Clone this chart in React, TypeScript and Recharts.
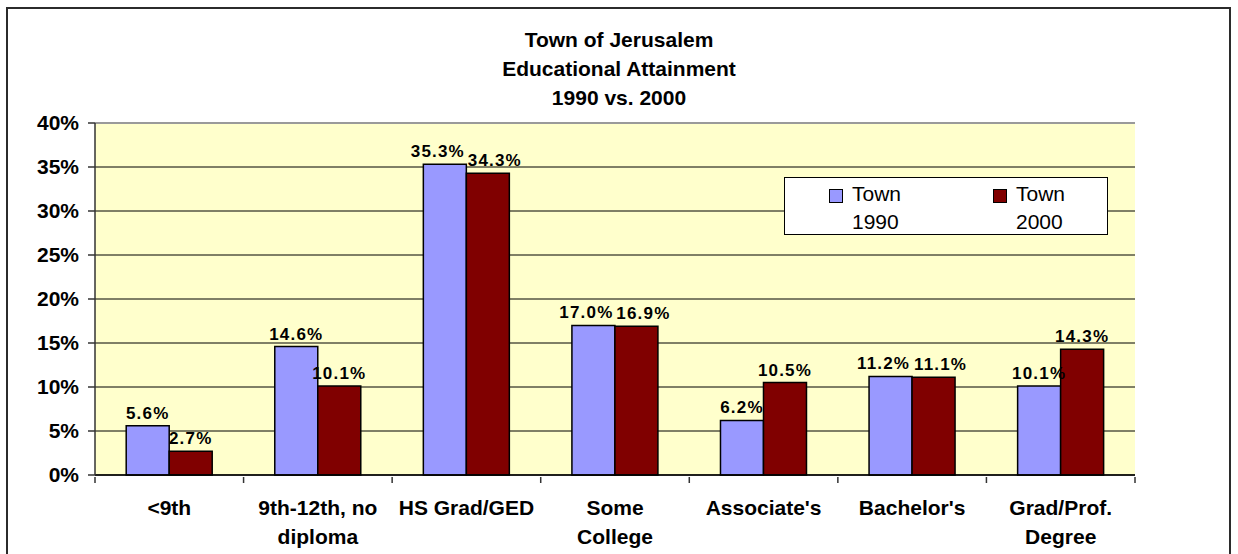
import React from 'react'
import {
  Bar,
  BarChart,
  CartesianGrid,
  LabelList,
  Legend,
  ReferenceLine,
  XAxis,
  YAxis,
} from 'recharts'

const categories = [
  '<9th',
  '9th-12th, no\ndiploma',
  'HS Grad/GED',
  'Some\nCollege',
  "Associate's",
  "Bachelor's",
  'Grad/Prof.\nDegree',
]
const town1990 = [5.6, 14.6, 35.3, 17.0, 6.2, 11.2, 10.1]
const town2000 = [2.7, 10.1, 34.3, 16.9, 10.5, 11.1, 14.3]
const yTicks = [0, 5, 10, 15, 20, 25, 30, 35, 40]
const titleLines = ['Town of Jerusalem', 'Educational Attainment', '1990 vs. 2000']
const seriesNames = [
  ['Town', '1990'],
  ['Town', '2000'],
]

const data = categories.map((c, i) => ({ cat: c, t1990: town1990[i], t2000: town2000[i] }))

const FONT = "Arial, 'Liberation Sans', sans-serif"
const BLUE = '#9999FF'
const RED = '#800000'
const W = 1238
const H = 554
const PLOT_W = 1040

function CatTick(props: any) {
  const { x, y, payload, index } = props
  const lines = String(payload.value).split('\n')
  const half = payload.offset || PLOT_W / 14
  return (
    <g>
      <line x1={x - half} y1={y} x2={x - half} y2={y + 6} stroke="#333" strokeWidth={1.5} />
      {index === categories.length - 1 && (
        <line x1={x + half} y1={y} x2={x + half} y2={y + 6} stroke="#333" strokeWidth={1.5} />
      )}
      <text x={x} y={y + 38} textAnchor="middle" fontFamily={FONT} fontSize={21} fontWeight="bold" fill="#000">
        {lines.map((l, i) => (
          <tspan key={i} x={x} dy={i === 0 ? 0 : 29}>
            {l}
          </tspan>
        ))}
      </text>
    </g>
  )
}

// value labels; when both bars of a pair are nearly the same height, nudge the
// labels apart so they sit side by side like the original
function makeLabel(side: -1 | 1) {
  return (p: any) => {
    const i = p.index as number
    const close = Math.abs(town1990[i] - town2000[i]) < 2.5
    const dx = close ? side * 7 : 0
    return (
      <text
        x={p.x + p.width / 2 + dx}
        y={p.y - 7}
        textAnchor="middle"
        fontFamily={FONT}
        fontSize={17}
        fontWeight="bold"
        letterSpacing={1.2}
        fill="#000"
      >
        {`${Number(p.value).toFixed(1)}%`}
      </text>
    )
  }
}

function LegendBox() {
  const colors = [BLUE, RED]
  return (
    <div
      style={{
        width: 324,
        height: 58,
        boxSizing: 'border-box',
        border: '1.5px solid #000',
        background: '#fff',
        position: 'relative',
        fontFamily: FONT,
        fontSize: 21,
        color: '#000',
      }}
    >
      {seriesNames.map((s, i) => (
        <div key={i} style={{ position: 'absolute', left: i === 0 ? 44 : 208, top: 2 }}>
          <div
            style={{
              position: 'absolute',
              left: 0,
              top: 9,
              width: 12,
              height: 12,
              background: colors[i],
              border: '1px solid #000',
            }}
          />
          <div style={{ marginLeft: 23, lineHeight: '28px', textAlign: 'left' }}>
            {s[0]}
            <br />
            {s[1]}
          </div>
        </div>
      ))}
    </div>
  )
}

export default function App() {
  return (
    <div style={{ position: 'absolute', left: 0, top: 0, width: W, height: H, overflow: 'hidden', background: '#fff' }}>
      <div
        style={{
          position: 'absolute',
          left: 6,
          top: 7,
          width: 1225,
          height: 600,
          boxSizing: 'border-box',
          border: '2px solid #2b2b2b',
        }}
      />
      <div
        style={{
          position: 'absolute',
          left: 0,
          top: 25,
          width: W,
          textAlign: 'center',
          fontFamily: FONT,
          fontSize: 21,
          fontWeight: 'bold',
          lineHeight: '29px',
          color: '#000',
        }}
      >
        {titleLines.map((t) => (
          <div key={t}>{t}</div>
        ))}
      </div>
      <div style={{ position: 'absolute', left: 0, top: 0 }}>
        <BarChart
          width={W}
          height={H}
          data={data}
          margin={{ top: 123, right: 103, bottom: 0, left: 0 }}
          barCategoryGap="21%"
          barGap={0}
        >
          <CartesianGrid fill="#FFFFCC" vertical={false} stroke="#000" strokeWidth={1} />
          <ReferenceLine y={40} stroke="#9a9a9a" strokeWidth={2} />
          <XAxis
            dataKey="cat"
            height={79}
            interval={0}
            tickLine={false}
            tickSize={0}
            tick={<CatTick />}
            axisLine={{ stroke: '#000', strokeWidth: 1.5 }}
          />
          <YAxis
            width={95}
            domain={[0, 40]}
            ticks={yTicks}
            interval={0}
            tickFormatter={(v: number) => `${v}%`}
            tickSize={7}
            tickMargin={9}
            tickLine={{ stroke: '#333', strokeWidth: 1.5 }}
            axisLine={{ stroke: '#333', strokeWidth: 1.5 }}
            tick={{ fontFamily: FONT, fontSize: 21, fontWeight: 'bold', fill: '#000' }}
          />
          <YAxis
            yAxisId="r"
            orientation="right"
            width={0}
            domain={[0, 40]}
            tick={false}
            tickLine={false}
            axisLine={{ stroke: '#9a9a9a', strokeWidth: 2 }}
          />
          <Legend
            layout="horizontal"
            verticalAlign="middle"
            align="center"
            content={() => <LegendBox />}
            wrapperStyle={{ position: 'absolute', left: 784, top: 177, width: 324, height: 58 }}
          />
          <Bar dataKey="t1990" name="Town 1990" fill={BLUE} stroke="#000" strokeWidth={1.5} isAnimationActive={false}>
            <LabelList dataKey="t1990" content={makeLabel(-1)} />
          </Bar>
          <Bar dataKey="t2000" name="Town 2000" fill={RED} stroke="#000" strokeWidth={1.5} isAnimationActive={false}>
            <LabelList dataKey="t2000" content={makeLabel(1)} />
          </Bar>
        </BarChart>
      </div>
    </div>
  )
}
